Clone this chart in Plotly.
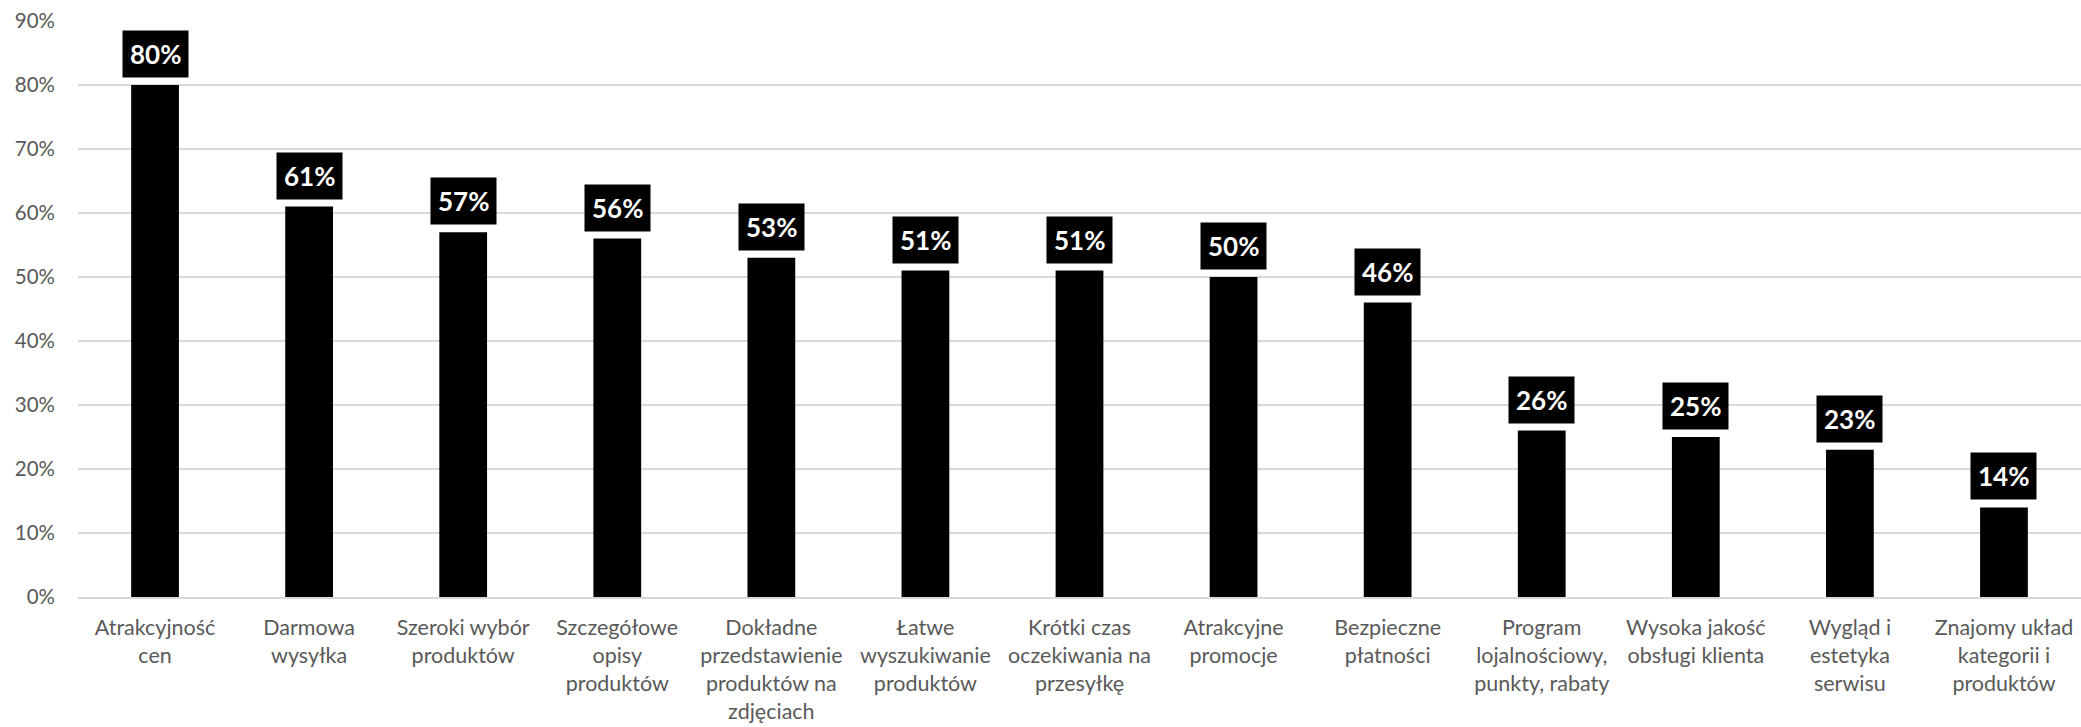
import plotly.graph_objects as go

categories = [
    "Atrakcyjność<br>cen",
    "Darmowa<br>wysyłka",
    "Szeroki wybór<br>produktów",
    "Szczegółowe<br>opisy<br>produktów",
    "Dokładne<br>przedstawienie<br>produktów na<br>zdjęciach",
    "Łatwe<br>wyszukiwanie<br>produktów",
    "Krótki czas<br>oczekiwania na<br>przesyłkę",
    "Atrakcyjne<br>promocje",
    "Bezpieczne<br>płatności",
    "Program<br>lojalnościowy,<br>punkty, rabaty",
    "Wysoka jakość<br>obsługi klienta",
    "Wygląd i<br>estetyka<br>serwisu",
    "Znajomy układ<br>kategorii i<br>produktów",
]
values = [80, 61, 57, 56, 53, 51, 51, 50, 46, 26, 25, 23, 14]
y_ticks = [0, 10, 20, 30, 40, 50, 60, 70, 80, 90]

fig = go.Figure(
    go.Bar(
        x=list(range(len(categories))),
        y=values,
        marker=dict(color="#000000", line=dict(width=0)),
        hoverinfo="skip",
    )
)

# value labels: white bold text in black boxes above each bar
for i, v in enumerate(values):
    fig.add_annotation(
        x=i, y=v, xref="x", yref="y",
        text=f"<b>{v}%</b>",
        showarrow=False,
        yanchor="bottom",
        yshift=7,
        bgcolor="#000000",
        borderpad=7,
        font=dict(family="Lato", size=26, color="#ffffff"),
    )

fig.update_layout(
    width=2081, height=727,
    margin=dict(l=78, r=0, t=21, b=130),
    paper_bgcolor="#ffffff",
    plot_bgcolor="#ffffff",
    bargap=0.69,
    showlegend=False,
    font=dict(family="Lato", color="#595959"),
)
fig.update_xaxes(
    tickmode="array",
    tickvals=list(range(len(categories))),
    ticktext=categories,
    range=[-0.5, len(categories) - 0.5],
    tickfont=dict(family="Lato", size=21.5, color="#595959"),
    showgrid=False,
    showline=True, linecolor="#d9d9d9", linewidth=2,
    ticks="",
    tickangle=0,
    ticklabelstandoff=10,
    automargin=False,
)
fig.update_yaxes(
    range=[0, 90],
    tickmode="array",
    tickvals=y_ticks,
    ticktext=[f"{t}%" for t in y_ticks],
    tickfont=dict(family="Lato", size=20.5, color="#595959"),
    showgrid=True, gridcolor="#d9d9d9", gridwidth=2,
    zeroline=False,
    ticks="",
    ticklabelstandoff=22,
    automargin=False,
)

fig.write_html("out.html")
